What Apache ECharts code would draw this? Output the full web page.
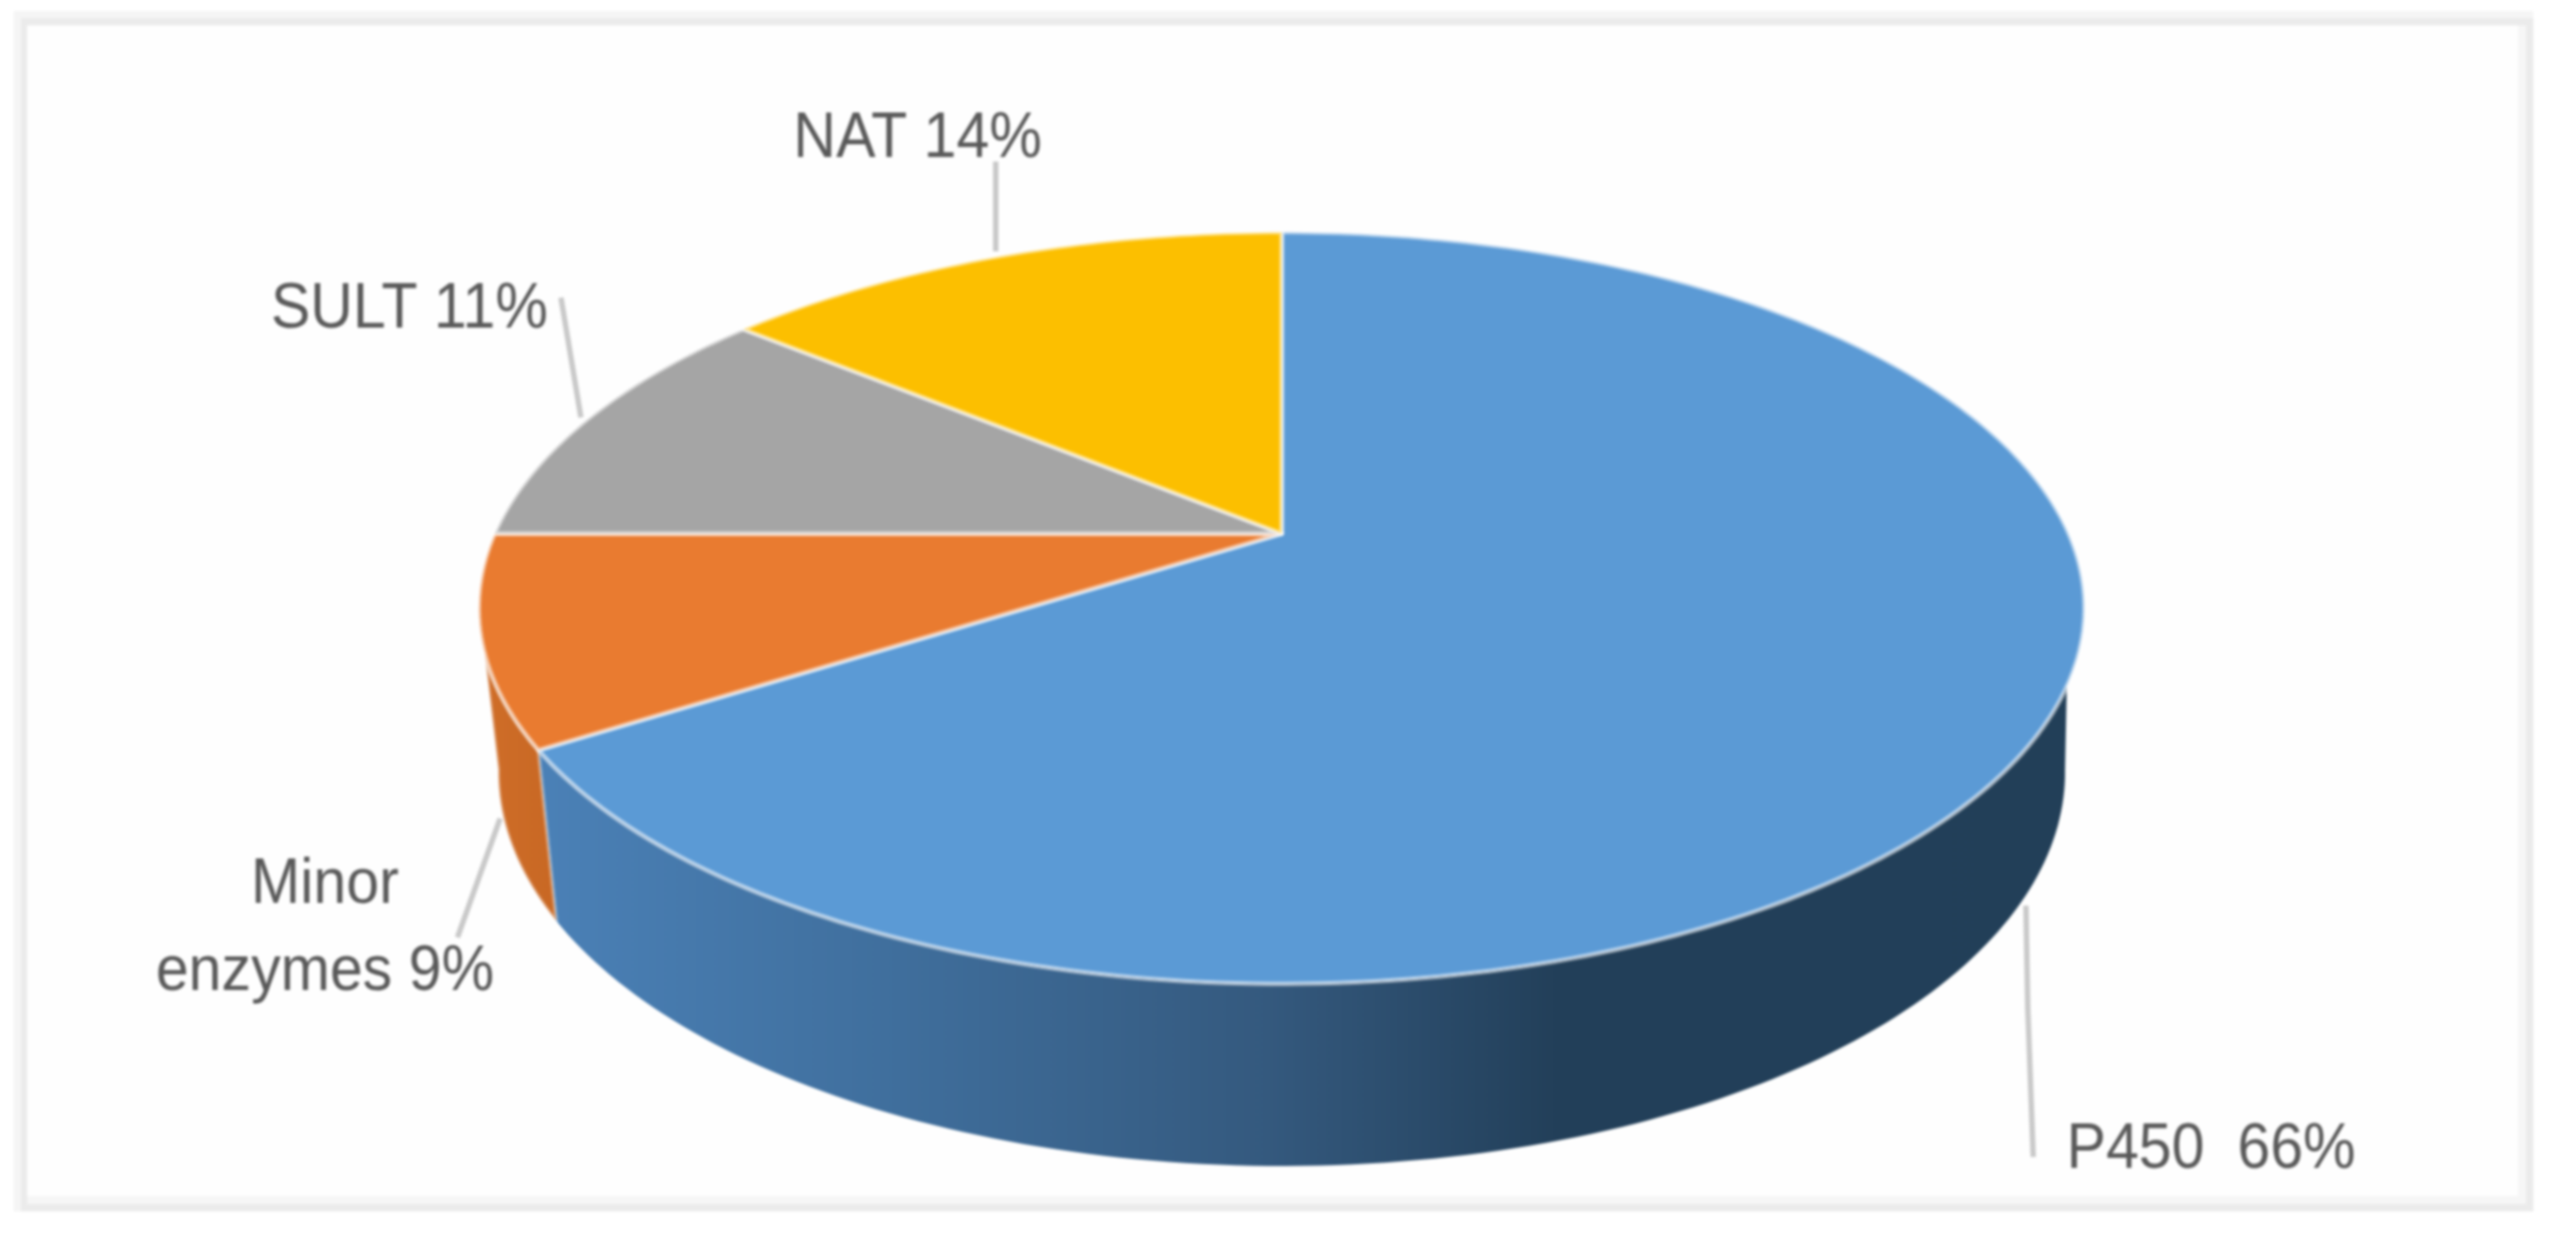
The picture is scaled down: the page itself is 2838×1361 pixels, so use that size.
<!DOCTYPE html>
<html>
<head>
<meta charset="utf-8">
<style>
html,body{margin:0;padding:0;background:#fff;overflow:hidden}
#chart{width:2838px;height:1361px;filter:blur(1.5px)}
</style>
<script src="https://cdn.jsdelivr.net/npm/echarts@6/dist/echarts.min.js"></script>
</head>
<body>
<div id="chart"></div>
<script>
// ---- data ----
const categories = ['P450', 'Minor enzymes', 'SULT', 'NAT'];
const shareValues = [66, 9, 11, 14];
const labelTexts = ['P450  66%', 'Minor\nenzymes 9%', 'SULT 11%', 'NAT 14%'];
const topColors = ['#5b9ad5', '#e97b30', '#a5a5a5', '#fcbf00'];

// ---- layout (perspective pie: rim and base are projected circles) ----
const rim = {cx: 1412, cy: 588, a: 867, b: 398, p: 0.198};
const base = {cx: 1412, cy: 765, a: 846, b: 417, p: 0.198};
const labelBoxes = [
  {x: 2436, y: 1268},
  {x: 358, y: 1024},
  {x: 451, y: 342},
  {x: 1011, y: 154}
];
const leaderLines = [
  [[2232, 998], [2234, 1110], [2240, 1275]],
  [[551, 902], [504, 1033]],
  [[618, 328], [640, 460]],
  [[1097, 178], [1097, 277]]
];
const total = shareValues.reduce((s, v) => s + v, 0);
const STEP = Math.PI / 180;

function project(e, th) {
  const u = Math.sin(th), v = Math.cos(th), w = 1 + e.p * v;
  return [e.cx + e.a * u / w, e.cy - e.b * v / w];
}
function arc(e, from, to) {
  const pts = [], n = Math.max(2, Math.ceil(Math.abs(to - from) / STEP));
  for (let i = 0; i <= n; i++) pts.push(project(e, from + (to - from) * i / n));
  return pts;
}
function sliceAngles(idx) {
  let sum = 0;
  for (let i = 0; i < idx; i++) sum += shareValues[i];
  return [sum / total * 2 * Math.PI, (sum + shareValues[idx]) / total * 2 * Math.PI];
}

const wallBlue = new echarts.graphic.LinearGradient(600, 0, 2290, 0, [
  {offset: 0, color: '#4a80b6'},
  {offset: 0.23, color: '#3f6e9c'},
  {offset: 0.47, color: '#34597e'},
  {offset: 0.66, color: '#223f59'},
  {offset: 1, color: '#223f58'}
], true);
const wallOrange = new echarts.graphic.LinearGradient(530, 0, 620, 0, [
  {offset: 0, color: '#cf6d28'},
  {offset: 1, color: '#c76723'}
], true);

const rimFrom = 113 * STEP, baseFrom = 101 * STEP, visibleTo = 259 * STEP;

function renderWall(params, api) {
  const i = params.dataIndex;
  const ang = sliceAngles(i);
  const to = Math.min(ang[1], visibleTo);
  const r0 = Math.max(ang[0], rimFrom), b0 = Math.max(ang[0], baseFrom);
  if (!(r0 < to)) return null;
  const pts = arc(rim, r0, to).concat(arc(base, to, b0));
  return {
    type: 'polygon',
    shape: {points: pts},
    style: {fill: i === 0 ? wallBlue : wallOrange, stroke: i === 0 ? null : 'rgba(255,255,255,0.35)', lineWidth: i === 0 ? 0 : 4}
  };
}
function renderTop(params, api) {
  const i = params.dataIndex;
  const ang = sliceAngles(i);
  const pts = [[rim.cx, rim.cy]].concat(arc(rim, ang[0], ang[1]));
  return {
    type: 'polygon',
    shape: {points: pts},
    style: {fill: api.visual('color'), stroke: 'rgba(255,255,255,0.55)', lineWidth: 5, lineJoin: 'round'}
  };
}
function renderLabel(params) {
  const i = params.dataIndex;
  return {
    type: 'group',
    children: [
      {
        type: 'polyline',
        shape: {points: leaderLines[i]},
        style: {fill: null, stroke: '#c9c9c9', lineWidth: 6}
      },
      {
        type: 'text',
        x: labelBoxes[i].x,
        y: labelBoxes[i].y,
        scaleX: 0.93,
        style: {
          text: labelTexts[i],
          fill: '#595959',
          font: '70px "Liberation Sans", Arial, sans-serif',
          align: 'center',
          verticalAlign: 'middle',
          lineHeight: 96
        }
      }
    ]
  };
}

const seriesData = categories.map((name, i) => ({
  name, value: shareValues[i], itemStyle: {color: topColors[i]}
}));

const chart = echarts.init(document.getElementById('chart'), null, {renderer: 'canvas'});
chart.setOption({
  animation: false,
  backgroundColor: '#ffffff',
  graphic: [
    {type: 'rect', z: 0, shape: {x: 15, y: 12, width: 2776, height: 1323}, style: {fill: '#f5f5f5'}},
    {type: 'rect', z: 0, shape: {x: 23, y: 20, width: 2768, height: 1315}, style: {fill: '#ebebeb'}},
    {type: 'rect', z: 0, shape: {x: 30, y: 28, width: 2753, height: 1299}, style: {fill: '#f6f6f6'}},
    {type: 'rect', z: 0, shape: {x: 30, y: 28, width: 2744, height: 1290}, style: {fill: '#fefefe'}}
  ],
  series: [
    {type: 'custom', coordinateSystem: 'none', z: 2, silent: true, renderItem: renderWall, data: seriesData},
    {type: 'custom', coordinateSystem: 'none', z: 3, silent: true, renderItem: renderTop, data: seriesData},
    {type: 'custom', coordinateSystem: 'none', z: 4, silent: true, renderItem: renderLabel, data: seriesData}
  ]
});
</script>
</body>
</html>
